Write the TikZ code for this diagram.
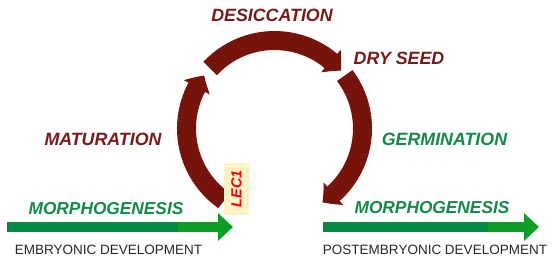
\documentclass[tikz,border=0pt]{standalone}
\usepackage{fontspec}
\setmainfont{Liberation Sans}
\usetikzlibrary{arrows.meta,bending}
\definecolor{maroon}{RGB}{118,20,12}
\definecolor{txtred}{RGB}{122,26,22}
\definecolor{txtgreen}{RGB}{18,138,72}
\definecolor{dkgreen}{RGB}{0,138,68}
\definecolor{brgreen}{RGB}{10,160,40}
\definecolor{lecfill}{RGB}{255,242,196}
\definecolor{lecred}{RGB}{255,0,0}
\begin{document}
\begin{tikzpicture}[x=1pt,y=1pt,
  cyc/.style={line width=19pt, draw=maroon, -{Triangle[width=29pt,length=14pt,bend]}},
  lbl/.style={font=\fontsize{17.8}{20}\selectfont\bfseries\itshape, inner sep=0pt},
  devlbl/.style={font=\fontsize{13.5}{16}\selectfont, inner sep=0pt, text=black!85},
  barA/.style={line width=10pt, draw=dkgreen},
  barB/.style={line width=10pt, draw=brgreen, -{Triangle[width=27pt,length=15pt]}}]
\useasboundingbox (0,0) rectangle (554,261);
\coordinate (c) at (274.5,132.5);
% cycle arcs
\draw[cyc] ([shift={(235:88)}]c) arc[start angle=235, end angle=143, radius=88];
\draw[cyc] ([shift={(137:88)}]c) arc[start angle=137, end angle=41, radius=88];
\draw[cyc] ([shift={(37:88)}]c) arc[start angle=37, end angle=-57, radius=88];
% labels
\node[lbl, text=txtred] (des) at (272,246) {DESICCATION};
\node[lbl, text=txtred] (dry) at (399,202.5) {DRY SEED};
\node[lbl, text=txtred] (mat) at (103,122) {MATURATION};
\node[lbl, text=txtgreen] (ger) at (444.5,121.5) {GERMINATION};
\node[lbl, text=txtgreen, font=\fontsize{17.3}{20}\selectfont\bfseries\itshape] (morl) at (106,52) {MORPHOGENESIS};
\node[lbl, text=txtgreen, font=\fontsize{17.3}{20}\selectfont\bfseries\itshape] (morr) at (432,53) {MORPHOGENESIS};
\node[devlbl] (emb) at (108.5,11) {EMBRYONIC DEVELOPMENT};
\node[devlbl] (post) at (435,11) {POSTEMBRYONIC DEVELOPMENT};
% green arrows
\coordinate (la) at (7,34);
\coordinate (lm) at (178,34);
\coordinate (le) at (233,34);
\draw[barA] (la) -- (lm);
\draw[barB] ([xshift=-0.5pt]lm) -- (le);
\coordinate (ra) at (323,34);
\coordinate (rm) at (488,34);
\coordinate (re) at (539,34);
\draw[barA] (ra) -- (rm);
\draw[barB] ([xshift=-0.5pt]rm) -- (re);
% LEC1
\node[fill=lecfill, rotate=90, minimum width=52pt, minimum height=25pt, inner sep=0pt,
      text=lecred, font=\fontsize{14.5}{16}\selectfont\bfseries\itshape] (lec) at (236.5,72) {LEC1};
\end{tikzpicture}
\end{document}
